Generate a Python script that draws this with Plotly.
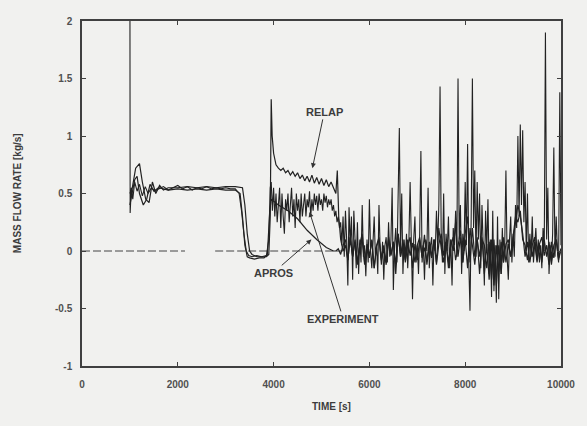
import plotly.graph_objects as go

# ---------------- data ----------------
# EXPERIMENT
EXP_T_EARLY = [1000, 1005, 1030, 1060, 1100, 1150, 1200, 1260, 1320, 1380, 1450, 1520, 1600, 1700,
               1800, 1900, 2000, 2100, 2200, 2300, 2400, 2500, 2600, 2700, 2800, 2900, 3000, 3100,
               3200, 3280, 3330, 3380, 3430, 3480, 3550, 3650, 3750, 3850, 3900, 3930]
EXP_V_EARLY = [2.5, 0.33, 0.55, 0.45, 0.6, 0.52, 0.58, 0.48, 0.56, 0.5, 0.55, 0.52, 0.54, 0.56,
               0.53, 0.55, 0.57, 0.54, 0.56, 0.53, 0.55, 0.54, 0.56, 0.54, 0.55, 0.54, 0.55, 0.54,
               0.54, 0.5, 0.35, 0.15, 0.0, -0.04, -0.05, -0.04, -0.05, -0.04, 0.1, 0.55]
EXP_T0, EXP_DT = 3950, 25
EXP_V_LATE = [
    # 3950 - 4425
    0.6, 0.35, 0.55, 0.3, 0.5, 0.25, 0.45, 0.55, 0.2, 0.5, 0.3, 0.15, 0.45, 0.35, 0.5, 0.25, 0.4, 0.55, 0.3, 0.45,
    # 4450 - 4925
    0.2, 0.5, 0.35, 0.45, 0.25, 0.5, 0.3, 0.42, 0.5, 0.3, 0.45, 0.38, 0.52, 0.3, 0.45, 0.35, 0.5, 0.4, 0.48, 0.35,
    # 4950 - 5400
    0.5, 0.4, 0.45, 0.35, 0.5, 0.42, 0.48, 0.38, 0.45, 0.4, 0.45, 0.35, 0.4, 0.3, 0.35, 0.25, 0.3, 0.2, 0.25,
    # 5425 - 5900
    0.05, 0.3, -0.05, 0.35, 0.1, -0.3, 0.38, 0.05, 0.3, -0.25, 0.35, 0.1, -0.15, 0.25, -0.2, 0.1, -0.1, 0.4, -0.05, 0.05,
    # 5925 - 6400
    -0.22, 0.1, -0.1, 0.45, 0.0, -0.15, 0.1, 0.3, -0.05, 0.05, -0.2, 0.4, 0.0, -0.12, 0.08, -0.25, 0.05, 0.12, -0.1, 0.25,
    # 6425 - 6900
    -0.05, 0.1, 0.55, -0.34, 0.05, 0.2, -0.1, 0.35, 1.07, 0.0, 0.5, -0.2, 0.1, -0.05, 0.15, -0.15, 0.1, 0.6, -0.05, -0.42,
    # 6925 - 7400
    0.1, 0.3, -0.1, 0.05, -0.2, 0.15, 0.87, -0.1, 0.05, -0.25, 0.1, 0.0, 0.55, -0.15, 0.05, 0.12, -0.3, 0.1, 0.0, 0.35,
    # 7425 - 7900
    0.05, 0.4, 1.43, 0.1, -0.1, 0.5, -0.2, 0.15, 0.0, 0.3, -0.15, 0.1, -0.3, 0.2, 0.05, 0.35, -0.05, 1.5, 0.1, 0.4,
    # 7925 - 8400
    -0.2, 0.15, 0.0, 0.6, 0.05, 0.93, -0.1, -0.52, 0.3, 1.5, 0.2, 0.7, -0.05, 0.6, 0.1, 0.5, -0.15, 0.4, 0.05, -0.3,
    # 8425 - 8900
    0.35, 0.0, 0.45, -0.2, 0.1, -0.4, 0.35, -0.35, 0.05, -0.45, 0.3, -0.42, 0.1, -0.2, 0.2, -0.1, 0.05, 0.7, -0.05, -0.25,
    # 8925 - 9400
    0.1, 0.3, -0.1, 0.15, -0.05, 0.4, 0.2, 1.0, 0.3, 1.1, 0.4, 1.05, 0.25, 0.6, 0.0, 0.5, -0.1, 0.15, -0.05, 0.3,
    # 9425 - 10000
    -0.1, 0.1, 0.2, -0.05, 0.1, -0.1, 0.05, -0.15, 0.2, 0.0, 1.9, 0.1, 0.55, -0.2, 0.05, -0.1, 0.15, 0.9, -0.05, 0.3,
    0.0, -0.1, 1.38, 0.05,
]
EXP_T_LATE = [EXP_T0 + i * EXP_DT for i in range(len(EXP_V_LATE))]

# APROS
APROS_T_EARLY = [1000, 1050, 1100, 1150, 1200, 1280, 1350, 1420, 1500, 1600, 1800, 2000, 2200, 2400,
                 2600, 2800, 3000, 3200, 3300, 3350, 3400, 3450, 3500, 3600, 3700, 3800, 3870, 3920,
                 3950, 4100, 4300, 4500, 4700, 4900, 5100, 5250]
APROS_V_EARLY = [0.4, 0.5, 0.62, 0.65, 0.5, 0.4, 0.45, 0.58, 0.52, 0.55, 0.53, 0.54, 0.53, 0.54,
                 0.53, 0.54, 0.53, 0.53, 0.5, 0.3, 0.05, -0.05, -0.06, -0.07, -0.06, -0.06, -0.03, 0.35,
                 0.45, 0.4, 0.35, 0.28, 0.18, 0.1, 0.03, 0.0]
APROS_T0, APROS_DT = 5300, 50
APROS_V_LATE = [
    0.0, 0.02, -0.03, 0.05, 0.1, -0.08, 0.12, -0.05, 0.08, -0.1, 0.05, 0.1, -0.12, 0.06, -0.04, 0.09, -0.15, 0.04, 0.1, -0.06,
    0.05, -0.1, 0.12, -0.03, 0.08, -0.12, 0.15, -0.05, 0.06, -0.08, 0.1, -0.04, 0.07, -0.1, 0.05, 0.12, -0.06, 0.03, -0.09, 0.08,
    -0.05, 0.1, -0.12, 0.06, 0.15, -0.04, 0.08, -0.1, 0.05, 0.12, -0.08, 0.04, 0.18, -0.1, 0.1, -0.15, 0.2, 0.05, -0.12, 0.1,
    -0.05, 0.12, -0.2, 0.06, -0.25, 0.1, -0.3, 0.05, -0.18, 0.08, -0.1, 0.06, 0.1, -0.05, 0.15, 0.3, 0.25, 0.35, 0.1, 0.05,
    -0.08, 0.1, -0.05, 0.08, -0.1, 0.06, 0.12, -0.04, 0.05, -0.12, 0.08, -0.06, 0.1, -0.08, 0.02,
]
APROS_T_LATE = [APROS_T0 + i * APROS_DT for i in range(len(APROS_V_LATE))]

# RELAP
RELAP_T_EARLY = [1000, 1050, 1120, 1200, 1260, 1330, 1400, 1470, 1540, 1620, 1700, 1800, 2000, 2200,
                 2400, 2600, 2800, 3000, 3200, 3350, 3400, 3450, 3500, 3550, 3650, 3750, 3850, 3900,
                 3930, 3950, 3970, 4000, 4050, 4100, 4150, 4200, 4250, 4300, 4350, 4400, 4450, 4500,
                 4550, 4600, 4650, 4700, 4750, 4800, 4850, 4900, 4950, 5000, 5050, 5100, 5150, 5200,
                 5250, 5300, 5330, 5360, 5400, 5450]
RELAP_V_EARLY = [0.5, 0.55, 0.72, 0.76, 0.6, 0.45, 0.42, 0.6, 0.5, 0.57, 0.53, 0.55, 0.55, 0.56,
                 0.55, 0.56, 0.55, 0.56, 0.56, 0.55, 0.4, 0.15, 0.0, -0.03, -0.05, -0.05, -0.05, -0.03,
                 0.3, 1.32, 1.0, 0.85, 0.75, 0.72, 0.7, 0.72, 0.68, 0.7, 0.66, 0.69, 0.65, 0.68,
                 0.63, 0.66, 0.61, 0.65, 0.6, 0.66, 0.59, 0.64, 0.58, 0.63, 0.57, 0.62, 0.56, 0.6,
                 0.55, 0.5, 0.7, 0.3, 0.1, 0.0]
RELAP_T0, RELAP_DT = 5500, 50
RELAP_V_LATE = [
    0.05, -0.08, 0.12, -0.05, 0.1, -0.12, 0.06, 0.15, -0.1, 0.04,
    -0.06, 0.1, -0.15, 0.05, 0.12, -0.08, 0.02, -0.12, 0.1, -0.04,
    0.08, -0.2, 0.15, -0.05, 0.1, -0.1, 0.05, 0.12, -0.15, 0.06,
    -0.08, 0.1, -0.05, 0.14, -0.12, 0.05, -0.06, 0.1, -0.1, 0.2,
    0.02, -0.1, 0.08, -0.15, 0.1, 0.0, 0.25, -0.05, 0.12, -0.1,
    0.15, 0.3, -0.1, 0.2, -0.05, 0.12, -0.2, 0.1, 0.05, -0.15,
    0.08, -0.25, 0.1, -0.3, 0.05, -0.2, 0.12, -0.1, 0.06, -0.05,
    0.1, 0.25, 0.4, 0.3, 0.15, -0.05, 0.08, -0.1, 0.05, 0.12,
    -0.08, 0.06, -0.1, 0.1, -0.05, 0.08, -0.12, 0.05, 0.1, -0.06, 0.02,
]
RELAP_T_LATE = [RELAP_T0 + i * RELAP_DT for i in range(len(RELAP_V_LATE))]

# zero reference (dashed)
ZERO_T = [0, 2150, 2150, 2780, 5450]
ZERO_V = [0, 0, None, 0, 0]

X_TICKS = [0, 2000, 4000, 6000, 8000, 10000]
Y_TICKS = [-1, -0.5, 0, 0.5, 1, 1.5, 2]
Y_TICK_TEXT = ["-1", "-0.5", "0", "0.5", "1", "1.5", "2"]

# ---------------- figure ----------------
LINE = "#222222"
fig = go.Figure()
fig.add_trace(go.Scatter(x=ZERO_T, y=ZERO_V, mode="lines", name="zero",
                         line=dict(color="#444444", width=1, dash="8px,3px"), connectgaps=False))
fig.add_trace(go.Scatter(x=RELAP_T_EARLY + RELAP_T_LATE, y=RELAP_V_EARLY + RELAP_V_LATE,
                         mode="lines", name="RELAP", line=dict(color=LINE, width=1.2)))
fig.add_trace(go.Scatter(x=APROS_T_EARLY + APROS_T_LATE, y=APROS_V_EARLY + APROS_V_LATE,
                         mode="lines", name="APROS", line=dict(color=LINE, width=1.2)))
fig.add_trace(go.Scatter(x=EXP_T_EARLY + EXP_T_LATE, y=EXP_V_EARLY + EXP_V_LATE,
                         mode="lines", name="EXPERIMENT", line=dict(color=LINE, width=1.1)))

FONT = "Liberation Sans, Arial, sans-serif"
TXT = "#3c3c3c"
arrow_common = dict(xref="x", yref="y", axref="x", ayref="y", showarrow=True,
                    arrowhead=2, arrowsize=1, arrowwidth=1, arrowcolor="#333",
                    font=dict(family=FONT, size=11, color=TXT, weight="bold"))
fig.add_annotation(x=4810, y=0.72, ax=5060, ay=1.21, text="RELAP", **arrow_common)
fig.add_annotation(x=4790, y=0.10, ax=3990, ay=-0.19, text="APROS", **arrow_common)
fig.add_annotation(x=4750, y=0.34, ax=5455, ay=-0.59, text="EXPERIMENT", **arrow_common)

fig.add_annotation(xref="paper", yref="paper", x=-0.15, y=0.5, text="MASS FLOW RATE [kg/s]",
                   textangle=-90, showarrow=False,
                   font=dict(family=FONT, size=10, color=TXT, weight="bold"))
fig.add_annotation(xref="paper", yref="paper", x=0.52, y=-0.14, text="TIME [s]",
                   showarrow=False, font=dict(family=FONT, size=10, color=TXT, weight="bold"))

axis_common = dict(showgrid=False, zeroline=False, showline=True, linecolor="#404040",
                   linewidth=1.5, mirror="ticks", ticks="inside", ticklen=4, tickcolor="#404040",
                   tickfont=dict(family=FONT, size=10, color="#505050", weight="bold"))
fig.update_xaxes(range=[0, 10000], tickvals=X_TICKS, ticktext=[str(v) for v in X_TICKS],
                 ticklabelstandoff=8, **axis_common)
fig.update_yaxes(range=[-1, 2], tickvals=Y_TICKS, ticktext=Y_TICK_TEXT, ticklabelstandoff=6,
                 **axis_common)

fig.update_layout(width=587, height=426, showlegend=False,
                  margin=dict(l=82, r=21, t=21, b=60),
                  paper_bgcolor="#f1f1ef", plot_bgcolor="#f1f1ef")

fig.write_html("out.html")
